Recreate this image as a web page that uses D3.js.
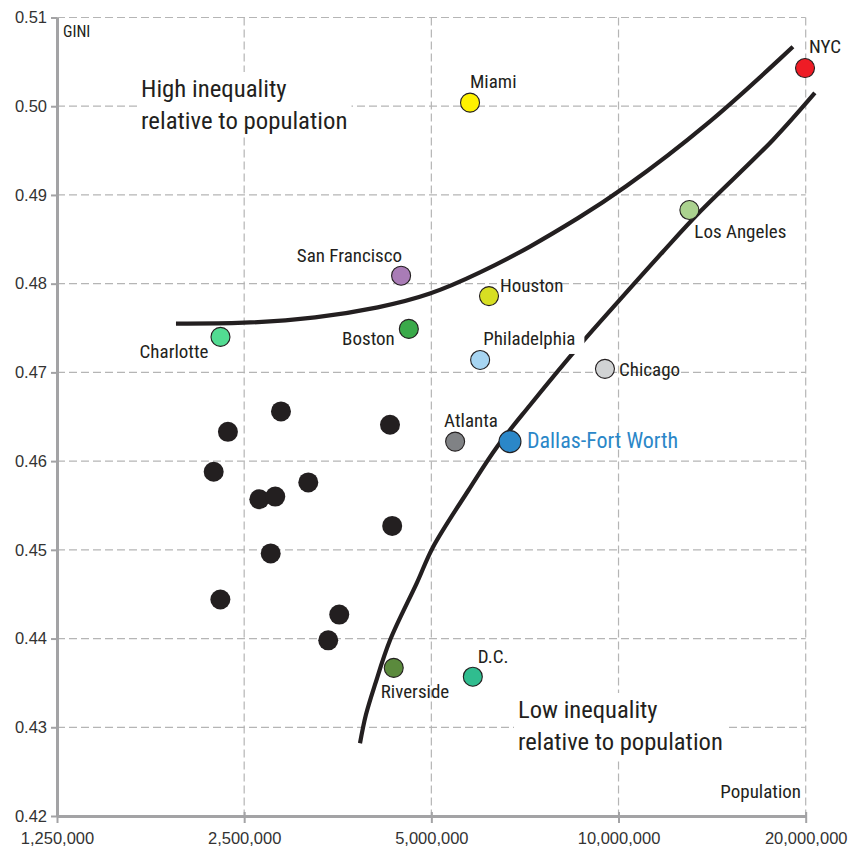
<!DOCTYPE html>
<html>
<head>
<meta charset="utf-8">
<script src="https://cdn.jsdelivr.net/npm/d3@7"></script>
<style>
  html, body { margin: 0; padding: 0; background: #fff; }
  svg { display: block; }
  .tick text { font-family: "Liberation Sans", Arial, sans-serif; }
</style>
</head>
<body>
<svg id="chart" width="863" height="849"></svg>
<script>
// ---------- data ----------
const xTickValues = [1250000, 2500000, 5000000, 10000000, 20000000];
const yTickValues = [0.42, 0.43, 0.44, 0.45, 0.46, 0.47, 0.48, 0.49, 0.50, 0.51];

const cities = ["NYC", "Miami", "Los Angeles", "San Francisco", "Houston", "Boston", "Charlotte",
  "Philadelphia", "Chicago", "Atlanta", "Dallas-Fort Worth", "Riverside", "D.C."];
const cityPopulation = [19950000, 5770000, 13000000, 4470000, 6190000, 4600000, 2290000,
  5990000, 9510000, 5460000, 6690000, 4350000, 5830000];
const cityGini = [0.5043, 0.5004, 0.4883, 0.4809, 0.4786, 0.4749, 0.4740,
  0.4714, 0.4704, 0.4622, 0.4622, 0.4367, 0.4357];

const otherPopulation = [2865000, 2354000, 4290000, 2233000, 3170000, 2644000,
  2805000, 4325000, 2758000, 2289000, 3555000, 3413000];
const otherGini = [0.4656, 0.4633, 0.4641, 0.4588, 0.4576, 0.4557,
  0.4560, 0.4527, 0.4496, 0.4444, 0.4427, 0.4398];

const upperCurvePopulation = [1942000, 2489000, 3273000, 4133000, 4974000, 5986000, 7203000, 8669000, 9978000, 13872000, 19075000];
const upperCurveGini = [0.4755, 0.4755, 0.4761, 0.4773, 0.4787, 0.4812, 0.4841, 0.4875, 0.4902, 0.4977, 0.5067];

const lowerCurvePopulation = [3839000, 3924000, 4058000, 4290000, 4741000, 5030000, 5747000, 6375000, 7203000, 8669000, 10052000, 11787000, 13517000, 17713000, 20690000];
const lowerCurveGini = [0.4282, 0.4314, 0.4348, 0.4398, 0.4463, 0.4503, 0.4568, 0.4616, 0.4663, 0.4731, 0.4782, 0.4836, 0.4881, 0.4962, 0.5015];

const annotationHigh = ["High inequality", "relative to population"];
const annotationLow = ["Low inequality", "relative to population"];

// ---------- styles ----------
const cityColors = {
  "NYC": "#ee1c25", "Miami": "#fff200", "Los Angeles": "#abd28f", "San Francisco": "#a97cb6",
  "Houston": "#d7df23", "Boston": "#3aaa4a", "Charlotte": "#52dc92", "Philadelphia": "#a7d5f2",
  "Chicago": "#d1d3d4", "Atlanta": "#808285", "Dallas-Fort Worth": "#2b87c8", "Riverside": "#5b8a3d",
  "D.C.": "#30bd8f"
};
// label offsets relative to point: [dx, dy, anchor]
const labelPlacement = {
  "NYC": [4, -15, "start"], "Miami": [0, -15, "start"], "Los Angeles": [5, 28, "start"],
  "San Francisco": [1, -14, "end"], "Houston": [11, -4, "start"], "Boston": [-14, 16, "end"],
  "Charlotte": [-12, 21, "end"], "Philadelphia": [3, -15, "start"], "Chicago": [14, 7, "start"],
  "Atlanta": [-11, -15, "start"], "Dallas-Fort Worth": [17, 6, "start"], "Riverside": [-13, 30, "start"],
  "D.C.": [5, -14, "start"]
};
const narrowFont = '"Liberation Sans Narrow", "Arial Narrow", "Roboto Condensed", sans-serif';
const ink = "#231f20";

// ---------- scales ----------
const svg = d3.select("#chart");
const x = d3.scaleLog().base(2).domain([1250000, 20000000]).range([57, 805.7]);
const y = d3.scaleLinear().domain([0.42, 0.51]).range([816, 17.5]);

// ---------- grid ----------
const grid = svg.append("g").attr("stroke", "#b5b5b5").attr("stroke-width", 1.2).attr("stroke-dasharray", "8,4");
grid.selectAll("line.h").data(yTickValues.slice(1)).join("line")
  .attr("x1", x.range()[0]).attr("x2", x.range()[1])
  .attr("y1", d => y(d)).attr("y2", d => y(d));
grid.selectAll("line.v").data(xTickValues.slice(1)).join("line")
  .attr("x1", d => x(d)).attr("x2", d => x(d))
  .attr("y1", y.range()[1]).attr("y2", y.range()[0]);

// ---------- annotation text with white background ----------
function annotation(lines, px, py, lh, size) {
  const g = svg.append("g");
  const t = g.append("text").attr("font-family", narrowFont).attr("font-size", size).attr("fill", ink);
  lines.forEach((l, i) => t.append("tspan").attr("x", px).attr("y", py + i * lh).text(l));
  const bb = t.node().getBBox();
  g.insert("rect", "text").attr("x", bb.x - 4).attr("y", bb.y - 2).attr("width", bb.width + 8).attr("height", bb.height + 4).attr("fill", "#fff");
}
annotation(annotationHigh, 141, 97, 32, 24.8);
annotation(annotationLow, 518, 718, 32, 24.6);

// ---------- axes ----------
const fmt = d3.format(",");
const xAxis = svg.append("g").attr("transform", `translate(0,${y(0.42)})`)
  .call(d3.axisBottom(x).tickValues(xTickValues).tickFormat(fmt).tickSizeInner(7).tickSizeOuter(0).tickPadding(9));
const yAxis = svg.append("g").attr("transform", `translate(${x(1250000)},0)`)
  .call(d3.axisLeft(y).tickValues(yTickValues).tickFormat(d3.format(".2f")).tickSizeInner(6).tickSizeOuter(0).tickPadding(4));
[xAxis, yAxis].forEach(a => {
  a.select(".domain").attr("stroke", "#a3a3a5").attr("stroke-width", 3);
  a.selectAll(".tick line").attr("stroke", "#a3a3a5").attr("stroke-width", 2);
  a.selectAll(".tick text").attr("font-size", 16.5).attr("fill", "#333");
});
xAxis.selectAll(".tick line").attr("y1", -4);

svg.append("text").attr("x", 63).attr("y", 37).attr("font-family", narrowFont)
  .attr("font-size", 16).attr("fill", ink).text("GINI");
svg.append("text").attr("x", 801).attr("y", 798).attr("text-anchor", "end").attr("font-family", narrowFont)
  .attr("font-size", 19).attr("fill", ink).text("Population");

// ---------- curves ----------
const upperLine = d3.line().x(d => x(d[0])).y(d => y(d[1])).curve(d3.curveBasis);
const lowerLine = d3.line().x(d => x(d[0])).y(d => y(d[1])).curve(d3.curveCatmullRom.alpha(0.5));
svg.append("path").datum(d3.zip(upperCurvePopulation, upperCurveGini))
  .attr("d", upperLine).attr("fill", "none").attr("stroke", ink).attr("stroke-width", 4.2);
svg.append("path").datum(d3.zip(lowerCurvePopulation, lowerCurveGini))
  .attr("d", lowerLine).attr("fill", "none").attr("stroke", ink).attr("stroke-width", 4.2);

// ---------- labels ----------
const labelG = svg.append("g");
cities.forEach((c, i) => {
  const [dx, dy, anchor] = labelPlacement[c];
  const isDFW = c === "Dallas-Fort Worth";
  const t = labelG.append("text")
    .attr("x", x(cityPopulation[i]) + dx).attr("y", y(cityGini[i]) + dy)
    .attr("text-anchor", anchor).attr("font-family", narrowFont)
    .attr("font-size", isDFW ? 22 : 19)
    .attr("fill", isDFW ? "#2b87c8" : ink).text(c);
  if (c === "Philadelphia") {
    const bb = t.node().getBBox();
    labelG.insert("rect", "text").attr("x", bb.x - 3).attr("y", bb.y).attr("width", bb.width + 12)
      .attr("height", bb.height + 4).attr("fill", "#fff");
  }
});

// ---------- points ----------
svg.append("g").selectAll("circle").data(d3.zip(otherPopulation, otherGini)).join("circle")
  .attr("cx", d => x(d[0])).attr("cy", d => y(d[1])).attr("r", 10).attr("fill", ink);
svg.append("g").selectAll("circle").data(cities).join("circle")
  .attr("cx", (d, i) => x(cityPopulation[i])).attr("cy", (d, i) => y(cityGini[i]))
  .attr("r", d => d === "Dallas-Fort Worth" ? 11 : 9.5)
  .attr("fill", d => cityColors[d]).attr("stroke", ink).attr("stroke-width", 1.1);
</script>
</body>
</html>
